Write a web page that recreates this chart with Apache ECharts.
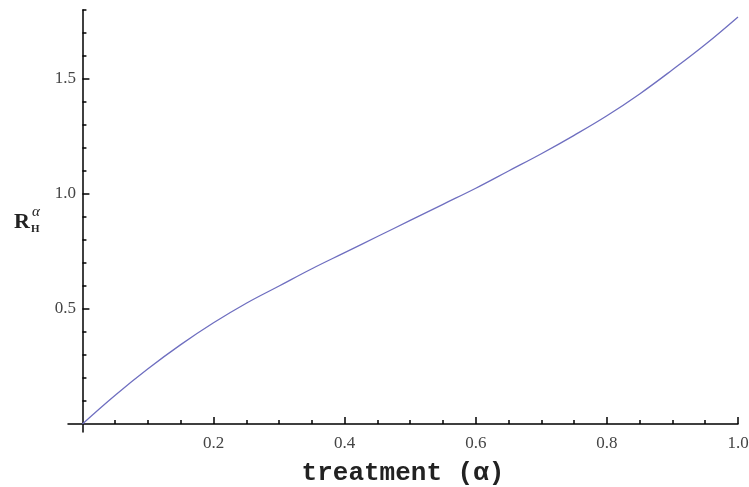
<!DOCTYPE html>
<html>
<head>
<meta charset="utf-8">
<script src="https://cdn.jsdelivr.net/npm/echarts@6/dist/echarts.min.js"></script>
<style>
  html, body { margin: 0; padding: 0; background: #fff; }
  #main { width: 749px; height: 487px; }
</style>
</head>
<body>
<div id="main"></div>
<script>
// treatment level alpha and the curve R_H^alpha
const alphaValues = [0, 0.05, 0.1, 0.15, 0.2, 0.25, 0.3, 0.35, 0.4, 0.45, 0.5,
                     0.55, 0.6, 0.65, 0.7, 0.75, 0.8, 0.85, 0.9, 0.95, 1.0];
const rValues = [0, 0.125, 0.24, 0.345, 0.44, 0.525, 0.60, 0.675, 0.745, 0.815, 0.885,
                 0.955, 1.025, 1.10, 1.175, 1.255, 1.34, 1.435, 1.54, 1.65, 1.77];

// ticks (Mathematica style: major labelled, minor short)
const xMajorTicks = [0.2, 0.4, 0.6, 0.8, 1.0];
const xMinorTicks = [0.05, 0.1, 0.15, 0.25, 0.3, 0.35, 0.45, 0.5, 0.55, 0.65, 0.7, 0.75, 0.85, 0.9, 0.95];
const yMajorTicks = [0.5, 1.0, 1.5];
const yMinorTicks = [0.1, 0.2, 0.3, 0.4, 0.6, 0.7, 0.8, 0.9, 1.1, 1.2, 1.3, 1.4, 1.6, 1.7, 1.8];

const xRange = [-0.022, 1.0];
const yRange = [-0.035, 1.8];

const lineColor = '#6f6fc0';
const labelStyle = { color: '#444', fontFamily: 'Liberation Serif', fontSize: 17 };

const chart = echarts.init(document.getElementById('main'));

// labels are placed from the grid edge, not from the zero line, hence the small/negative margins
const option = {
    animation: false,
    backgroundColor: '#fff',
    grid: { left: 68, right: 11, top: 10, bottom: 55, containLabel: false, outerBoundsMode: 'none' },
    xAxis: [{
        type: 'value',
        min: xRange[0],
        max: xRange[1],
        splitLine: { show: false },
        axisLine: { onZero: true, lineStyle: { color: '#000', width: 1.5 } },
        axisTick: { inside: true, length: 7, customValues: xMajorTicks, lineStyle: { color: '#000', width: 1.5 } },
        axisLabel: Object.assign({ margin: 3, customValues: xMajorTicks,
            formatter: v => v.toFixed(1) }, labelStyle),
        name: 'treatment (α)',
        nameLocation: 'middle',
        nameGap: 28,
        nameTextStyle: { fontFamily: 'Liberation Mono', fontWeight: 'bold', fontSize: 26, color: '#222' }
    }, {
        type: 'value',
        min: xRange[0],
        max: xRange[1],
        position: 'bottom',
        splitLine: { show: false },
        axisLine: { show: false, onZero: true },
        axisTick: { inside: true, length: 4, customValues: xMinorTicks, lineStyle: { color: '#000', width: 1.5 } },
        axisLabel: { show: false }
    }],
    yAxis: [{
        type: 'value',
        min: yRange[0],
        max: yRange[1],
        splitLine: { show: false },
        axisLine: { onZero: true, lineStyle: { color: '#000', width: 1.5 } },
        axisTick: { inside: true, length: 7, customValues: yMajorTicks, lineStyle: { color: '#000', width: 1.5 } },
        axisLabel: Object.assign({ margin: -8, customValues: yMajorTicks,
            formatter: v => v.toFixed(1) }, labelStyle)
    }, {
        type: 'value',
        min: yRange[0],
        max: yRange[1],
        position: 'left',
        splitLine: { show: false },
        axisLine: { show: false, onZero: true },
        axisTick: { inside: true, length: 4, customValues: yMinorTicks, lineStyle: { color: '#000', width: 1.5 } },
        axisLabel: { show: false }
    }],
    graphic: [{
        type: 'group',
        left: 14,
        top: 205,
        children: [
            { type: 'text', x: 0, y: 6, style: { text: 'R', font: 'bold 22px "Liberation Serif"', fill: '#222' } },
            { type: 'text', x: 18, y: 0, style: { text: 'α', font: 'italic 15px "Liberation Serif"', fill: '#222' } },
            { type: 'text', x: 17, y: 19, style: { text: 'H', font: 'bold 11px "Liberation Serif"', fill: '#222' } }
        ]
    }],
    series: [{
        type: 'line',
        xAxisIndex: 0,
        yAxisIndex: 0,
        data: alphaValues.map((a, i) => [a, rValues[i]]),
        smooth: 0.4,
        showSymbol: false,
        lineStyle: { color: lineColor, width: 1.3 }
    }]
};

chart.setOption(option);
</script>
</body>
</html>
